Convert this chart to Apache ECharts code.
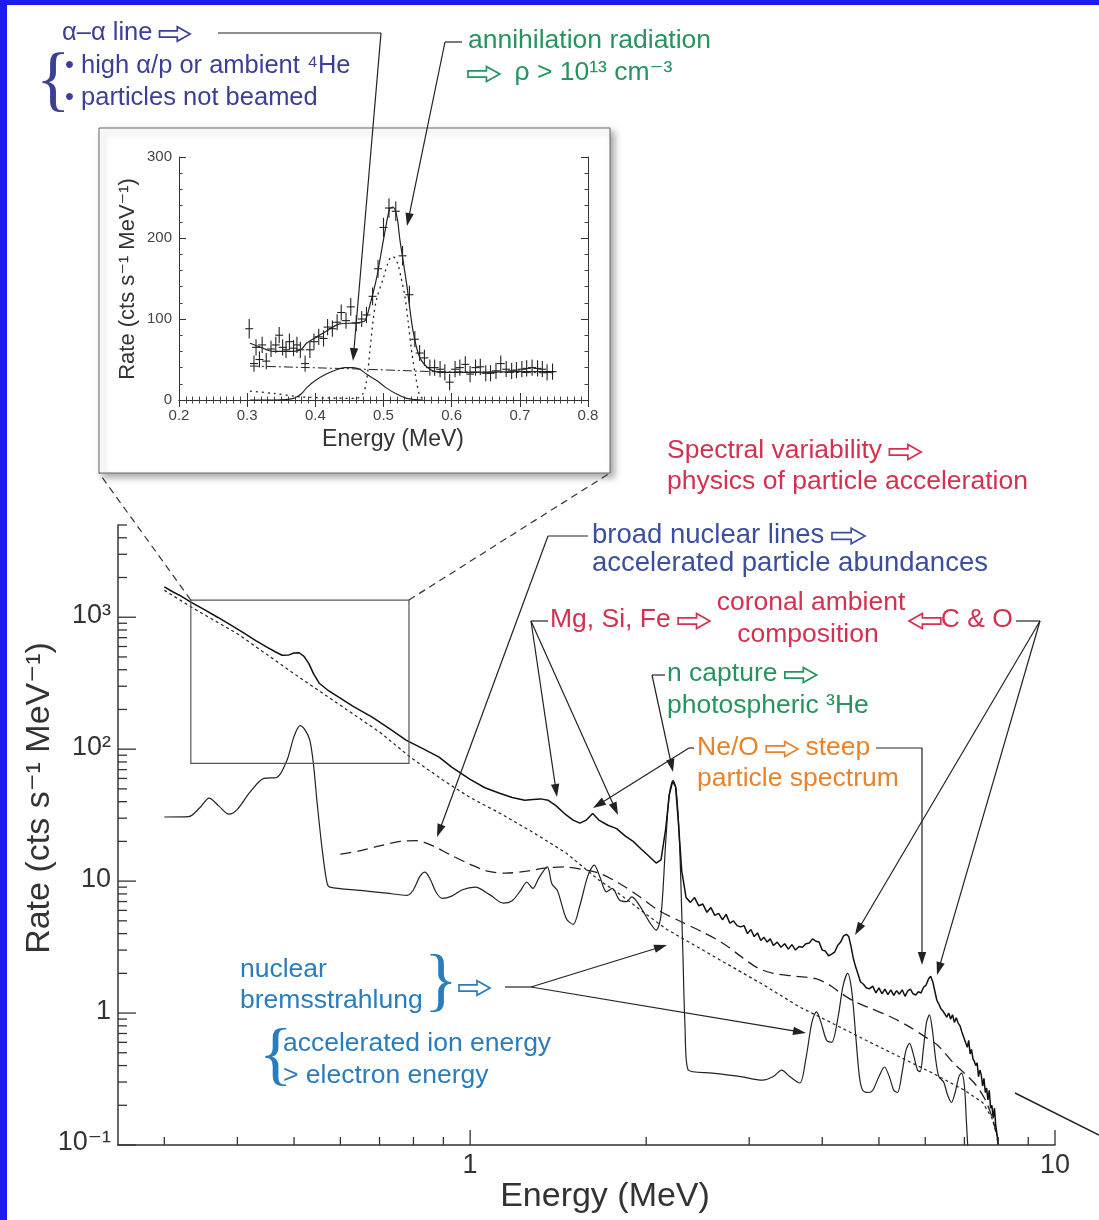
<!DOCTYPE html>
<html>
<head>
<meta charset="utf-8">
<script src="https://cdn.jsdelivr.net/npm/echarts@6/dist/echarts.min.js"></script>
<style>
  html, body { margin: 0; padding: 0; background: #fff; }
  #chart { width: 1099px; height: 1220px; }
</style>
</head>
<body>
<div id="chart"></div>
<script>
// ---- main spectrum (log-log) ----
// observed count spectrum
const obsE = [0.30,0.31,0.32,0.333,0.35,0.37,0.39,0.41,0.43,0.45,0.465,0.477,0.49,0.50,0.51,0.52,0.53,0.54,0.552,0.57,
  0.596,0.63,0.68,0.73,0.777,0.83,0.885,0.93,1.00,1.06,1.12,1.18,1.24,1.28,1.32,1.36,1.40,1.45,1.50,1.54,
  1.58,1.62,1.66,1.72,1.78,1.84,1.90,1.96,2.02,2.08,2.12,2.16,2.19,2.22,2.245,2.27,2.30,
  2.34,2.38,2.42,2.46,2.50,2.54,2.58,2.62,2.66,2.70,2.74,2.78,2.82,2.86,2.90,2.94,2.98,3.02,3.06,3.10,
  3.14,3.18,3.22,3.26,3.30,3.35,3.40,3.45,3.50,3.55,3.60,3.65,3.70,3.75,3.80,3.85,3.90,3.95,4.00,4.05,
  4.10,4.15,4.20,4.25,4.30,4.35,4.40,4.44,4.48,4.52,4.56,4.60,4.65,4.70,4.76,4.82,4.88,4.94,5.00,5.06,
  5.12,5.18,5.24,5.30,5.36,5.42,5.48,5.54,5.60,5.66,5.72,5.78,5.84,5.90,5.96,6.02,6.08,6.13,6.18,6.23,
  6.28,6.33,6.38,6.43,6.48,6.53,6.58,6.63,6.68,6.73,6.78,6.83,6.88,6.93,6.98,7.03,7.08,7.12,7.16,7.20,
  7.24,7.28,7.32,7.36,7.40,7.44,7.48,7.52,7.56,7.60,7.64,7.68,7.72,7.76,7.80,7.84,7.88,7.92,7.96,8.00];
const obsRate = [1700,1560,1450,1300,1150,1000,870,760,665,590,545,515,518,535,538,505,445,372,316,282,
  248,212,175,142,117,101,87,73,59,51,46.5,43,41,41.5,42,41,37.5,32.5,29,27.5,
  29,32.5,29,26.5,25,22,20,17.5,15.5,13.7,14.5,25,45,57,52,28,12,
  7.5,6.9,7.5,6.5,6.7,5.8,6.3,5.5,5.7,5.1,5.6,4.8,5.0,4.6,4.5,4.6,4.0,4.3,3.8,4.05,
  3.55,3.75,3.45,3.65,3.25,3.45,3.15,3.35,3.05,3.3,3.0,3.2,3.15,3.35,3.4,3.65,3.5,3.45,3.0,2.95,
  2.72,2.8,2.9,3.25,3.45,3.85,3.95,3.8,3.2,2.6,2.25,2.0,1.72,1.66,1.55,1.53,1.6,1.42,1.55,1.4,
  1.52,1.38,1.5,1.36,1.48,1.39,1.5,1.34,1.47,1.52,1.4,1.37,1.45,1.42,1.57,1.63,1.82,1.9,1.73,1.47,
  1.25,1.17,1.08,1.04,1.06,0.93,1.0,0.9,0.97,0.85,0.92,0.84,0.8,0.72,0.7,0.6,0.55,0.62,0.49,0.53,
  0.45,0.43,0.40,0.42,0.33,0.37,0.34,0.28,0.32,0.25,0.27,0.22,0.26,0.19,0.2,0.16,0.19,0.14,0.12,0.1];

// power-law (electron bremsstrahlung) component, dotted
const pwE = [0.30,0.333,0.40,0.51,0.60,0.70,0.79,0.90,1.00,1.12,1.30,1.46,1.66,1.80,2.00,2.17,2.50,2.81,3.20,3.66,4.20,4.76,5.40,6.18,7.00,7.52,7.80,8.00];
const pwRate = [1600,1200,750,351,215,135,87,58,43,33,22.5,16.3,10.2,8.0,5.6,4.3,3.0,2.23,1.6,1.11,0.82,0.62,0.47,0.35,0.26,0.21,0.16,0.11];

// broad nuclear lines component, dashed
const bnlE = [0.60,0.65,0.70,0.76,0.81,0.87,0.92,1.00,1.07,1.15,1.25,1.35,1.45,1.55,1.66,1.80,1.95,2.10,2.30,2.50,
  2.70,2.90,3.10,3.30,3.60,3.90,4.10,4.30,4.50,4.80,5.20,5.60,6.00,6.30,6.70,7.00,7.30,7.60,7.85,8.00];
const bnlRate = [16,17,18.5,20,20.3,18.2,16,13.4,11.9,11.5,11.9,12.6,12.8,12.3,11.5,9.6,7.6,6.0,4.9,4.1,
  3.4,2.7,2.2,2.0,1.9,1.82,1.65,1.42,1.25,1.1,0.95,0.8,0.66,0.57,0.42,0.35,0.29,0.22,0.15,0.1];

// narrow nuclear lines component, solid
const nlE = [0.30,0.33,0.345,0.358,0.372,0.387,0.40,0.42,0.444,0.467,0.486,0.50,0.512,0.522,0.532,0.54,0.547,0.558,0.569,0.576,
  0.65,0.72,0.78,0.80,0.82,0.837,0.855,0.875,0.896,0.93,0.97,1.02,1.08,1.14,1.18,1.22,1.25,1.28,1.31,1.355,
  1.38,1.41,1.46,1.50,1.54,1.59,1.63,1.67,1.71,1.75,1.80,1.85,1.89,1.95,2.02,2.08,2.12,2.16,2.19,2.223,
  2.25,2.28,2.31,2.33,2.36,2.60,2.90,3.16,3.30,3.41,3.52,3.66,3.75,3.84,3.91,3.98,4.07,4.15,4.26,4.34,
  4.42,4.49,4.56,4.63,4.69,4.80,4.88,5.00,5.11,5.22,5.30,5.38,5.48,5.56,5.64,5.73,5.82,5.88,5.96,6.03,
  6.10,6.17,6.25,6.33,6.45,6.55,6.65,6.75,6.85,6.92,7.00,7.05,7.10];
const nlRate = [30.6,30.8,36,42.6,37,32.2,35,47,60,61,82,125,151,140,117,75,41,18,9.8,9.0,
  8.5,8.1,7.8,8.6,10.8,11.7,10.3,8.2,7.4,7.7,8.6,9.0,7.9,6.8,7.1,8.5,9.8,8.8,10.5,12.8,
  9.5,8.5,5.2,4.7,6.5,11,13.2,10.5,8.3,8.8,7.2,7.0,7.6,6.5,5.0,4.25,5.5,20,45,58,
  50,20,3.0,0.8,0.37,0.35,0.33,0.31,0.33,0.37,0.33,0.295,0.45,0.85,1.02,0.85,0.62,0.6,0.95,1.6,
  2.0,1.5,0.7,0.33,0.26,0.25,0.26,0.33,0.39,0.32,0.26,0.25,0.36,0.52,0.59,0.48,0.37,0.36,0.55,0.85,
  0.97,0.75,0.45,0.33,0.3,0.24,0.21,0.25,0.33,0.35,0.28,0.16,0.09];

// zoom box on the main plot (energy, rate corners)
const boxE = [0.333, 0.786];
const boxRate = [78, 1350];

// main axis ticks
const xMajor = [1, 10];
const xMajorLabels = ['1', '10'];
const xMinor = [0.3,0.4,0.5,0.6,0.7,0.8,0.9,2,3,4,5,6,7,8,9];
const yMajor = [0.1, 1, 10, 100, 1000];
const yMajorLabels = ['10\u207b\u00b9', '1', '10', '10\u00b2', '10\u00b3'];
const yMinor = [0.2,0.3,0.4,0.5,0.6,0.7,0.8,0.9,2,3,4,5,6,7,8,9,20,30,40,50,60,70,80,90,
  200,300,400,500,600,700,800,900,2000,3000,4000,5000];

// ---- inset (linear) ----
const ptE = [0.303,0.310,0.313,0.318,0.322,0.328,0.335,0.342,0.347,0.352,0.357,0.362,0.368,0.373,0.378,0.385,0.392,0.398,0.405,0.412,
  0.418,0.425,0.432,0.438,0.445,0.452,0.460,0.468,0.475,0.484,0.492,0.500,0.508,0.518,0.528,0.538,0.546,0.553,0.560,0.568,
  0.575,0.583,0.590,0.597,0.605,0.612,0.620,0.627,0.635,0.642,0.650,0.657,0.665,0.672,0.680,0.688,0.695,0.703,0.710,0.718,
  0.726,0.733,0.740,0.748];
const ptRate = [88,45,65,50,68,48,63,68,80,65,62,72,64,68,62,45,62,72,78,76,
  90,88,96,108,98,115,95,100,105,128,162,213,237,233,178,130,75,58,52,40,
  40,38,34,22,38,40,44,32,40,41,33,33,36,45,38,36,37,38,39,40,
  39,38,34,35];
const ptErr = [12,10,10,10,10,10,10,10,10,10,10,10,10,10,10,10,10,10,10,10,
  10,10,10,10,10,11,10,10,10,11,11,12,12,12,12,11,10,10,10,10,
  10,10,10,10,10,10,10,10,10,10,10,10,10,10,10,10,10,10,10,10,
  10,10,10,10];

// total fit, solid
const fitE = [0.304,0.32,0.338,0.355,0.368,0.38,0.387,0.40,0.416,0.436,0.455,0.465,0.473,0.48,0.49,0.50,0.509,0.514,0.52,0.524,
  0.534,0.543,0.553,0.568,0.587,0.62,0.66,0.70,0.751];
const fitRate = [70,65,60,60,60,63,70,77,85,94,95,96,98,117,151,198,236,238,225,198,
  143,87,53,38,34,34,34.5,35,35];
// continuum, dash-dot
const contE = [0.304, 0.455, 0.573, 0.751];
const contRate = [42, 38.5, 35, 33.5];
// annihilation line + positronium, dotted
const annE = [0.304,0.34,0.377,0.42,0.46,0.47,0.475,0.48,0.485,0.49,0.50,0.506,0.512,0.516,0.521,0.526,0.531,0.536,0.541,0.547,0.553,0.56];
const annRate = [11,8,4,2.5,2,8,23,60,100,125,151,168,177,176,168,150,130,98,62,30,6,0];
// alpha-alpha line, solid
const aaE = [0.304,0.34,0.368,0.38,0.387,0.40,0.416,0.43,0.443,0.455,0.465,0.475,0.49,0.504,0.52,0.534,0.546,0.558];
const aaRate = [0,0,2,8,15,24,32,37,40,40,38,32,24,15,7,2,0.5,0];

const FONT = '"Liberation Sans", "DejaVu Sans", Arial, sans-serif';
const SERIF = '"Liberation Serif", "DejaVu Serif", serif';
const INK = '#222';
const NAVY = '#3c3f96';
const GREEN = '#27935f';
const RED = '#d4304f';
const BLUE = '#3c4f9e';
const ORANGE = '#e8832c';
const SKY = '#2a7dbd';

const zip = (a, b) => a.map((v, i) => [v, b[i]]);

const chart = echarts.init(document.getElementById('chart'));

const insetAxisCommon = {
  gridIndex: 1,
  axisLine: { show: true, lineStyle: { color: '#333', width: 1 } },
  axisTick: { show: true, inside: true, length: 7, lineStyle: { color: '#333' } },
  splitLine: { show: false }
};

chart.setOption({
  animation: false,
  backgroundColor: '#fff',
  grid: [
    { left: 118, top: 525, width: 937, height: 620 },
    { left: 179, top: 157, width: 409, height: 243 }
  ],
  xAxis: [
    { type: 'log', gridIndex: 0, min: 0.25, max: 10,
      axisLine: { show: true, lineStyle: { color: '#333', width: 1.5 } },
      axisTick: { show: false }, axisLabel: { show: false }, splitLine: { show: false } },
    Object.assign({}, insetAxisCommon, { type: 'value', min: 0.2, max: 0.8, interval: 0.1, position: 'bottom',
      minorTick: { show: true, splitNumber: 10, length: 3.5, lineStyle: { color: '#444' } },
      axisLabel: { formatter: v => v.toFixed(1), color: '#444', fontSize: 15, fontFamily: FONT, margin: 8 } }),
    Object.assign({}, insetAxisCommon, { type: 'value', min: 0.2, max: 0.8, interval: 0.1, position: 'top',
      minorTick: { show: true, splitNumber: 10, length: 3.5, lineStyle: { color: '#444' } },
      axisLabel: { show: false } })
  ],
  yAxis: [
    { type: 'log', gridIndex: 0, min: 0.1, max: 5000,
      axisLine: { show: true, lineStyle: { color: '#333', width: 1.5 } },
      axisTick: { show: false }, axisLabel: { show: false }, splitLine: { show: false } },
    Object.assign({}, insetAxisCommon, { type: 'value', min: 0, max: 300, interval: 100, position: 'left',
      minorTick: { show: true, splitNumber: 5, length: 3.5, lineStyle: { color: '#444' } },
      axisLabel: { color: '#444', fontSize: 15, fontFamily: FONT, margin: 7 } }),
    Object.assign({}, insetAxisCommon, { type: 'value', min: 0, max: 300, interval: 100, position: 'right',
      minorTick: { show: true, splitNumber: 5, length: 3.5, lineStyle: { color: '#444' } },
      axisLabel: { show: false } })
  ],
  series: [
    { type: 'line', xAxisIndex: 0, yAxisIndex: 0, data: zip(pwE, pwRate), showSymbol: false,
      lineStyle: { color: INK, width: 1.2, type: [3, 3] } },
    { type: 'line', xAxisIndex: 0, yAxisIndex: 0, data: zip(bnlE, bnlRate), showSymbol: false, smooth: 0.3,
      lineStyle: { color: INK, width: 1.3, type: [11, 6] } },
    { type: 'line', xAxisIndex: 0, yAxisIndex: 0, data: zip(nlE, nlRate), showSymbol: false, smooth: 0.3,
      lineStyle: { color: INK, width: 1.2 } },
    { type: 'line', xAxisIndex: 0, yAxisIndex: 0, data: zip(obsE, obsRate), showSymbol: false,
      lineStyle: { color: '#111', width: 1.5 } },
    // inset
    { type: 'line', xAxisIndex: 1, yAxisIndex: 1, data: zip(contE, contRate), showSymbol: false,
      lineStyle: { color: INK, width: 1, type: [9, 3, 2, 3] } },
    { type: 'line', xAxisIndex: 1, yAxisIndex: 1, data: zip(annE, annRate), showSymbol: false, smooth: 0.3,
      lineStyle: { color: INK, width: 1.3, type: [2, 4] } },
    { type: 'line', xAxisIndex: 1, yAxisIndex: 1, data: zip(aaE, aaRate), showSymbol: false, smooth: 0.3,
      lineStyle: { color: INK, width: 1.1 } },
    { type: 'line', xAxisIndex: 1, yAxisIndex: 1, data: zip(fitE, fitRate), showSymbol: false, smooth: 0.3,
      lineStyle: { color: INK, width: 1.2 } },
    { type: 'custom', xAxisIndex: 1, yAxisIndex: 1,
      data: ptE.map((e, i) => [e, ptRate[i], ptErr[i]]),
      renderItem: (params, api) => {
        const e = api.value(0), v = api.value(1), er = api.value(2);
        const c = api.coord([e, v]);
        const top = api.coord([e, v + er]);
        const bot = api.coord([e, v - er]);
        const st = { stroke: INK, lineWidth: 1.1 };
        return { type: 'group', children: [
          { type: 'line', shape: { x1: c[0], y1: top[1], x2: c[0], y2: bot[1] }, style: st },
          { type: 'line', shape: { x1: c[0] - 4, y1: c[1], x2: c[0] + 4, y2: c[1] }, style: st }
        ] };
      } }
  ]
});

// ---- decorations drawn after the axes exist ----
const px = v => chart.convertToPixel({ xAxisIndex: 0 }, v);
const py = v => chart.convertToPixel({ yAxisIndex: 0 }, v);
const xAxisY = py(0.1);
const yAxisX = px(0.25);

const measureCtx = document.createElement('canvas').getContext('2d');
const fontOf = (size, fam) => 'normal ' + size + 'px ' + (fam || FONT);
const textWidth = (s, size) => { measureCtx.font = fontOf(size); return measureCtx.measureText(s).width; };

function seg(x1, y1, x2, y2, st, z) {
  return { type: 'line', z: z == null ? 60 : z, shape: { x1, y1, x2, y2 },
    style: Object.assign({ stroke: INK, lineWidth: 1.2 }, st || {}) };
}
function arrow(x1, y1, x2, y2) {
  const a = Math.atan2(y2 - y1, x2 - x1), L = 13, W = 4.2;
  const bx = x2 - L * Math.cos(a), by = y2 - L * Math.sin(a);
  const ox = -Math.sin(a) * W, oy = Math.cos(a) * W;
  return [seg(x1, y1, bx + 2 * Math.cos(a), by + 2 * Math.sin(a)),
    { type: 'polygon', z: 60, shape: { points: [[x2, y2], [bx + ox, by + oy], [bx - ox, by - oy]] },
      style: { fill: INK } }];
}
function txt(x, y, text, color, size, align, family) {
  return { type: 'text', z: 60, x, y,
    style: { text, fill: color, font: fontOf(size, family),
      textAlign: align || 'left', textVerticalAlign: 'middle' } };
}
// outlined block arrow, like the hollow arrow glyphs of the figure
function hollow(x, y, dir, color, w) {
  const h = w * 0.47, s = w * 0.2;
  let pts = [[0, -s / 2], [w * 0.58, -s / 2], [w * 0.58, -h / 2], [w, 0], [w * 0.58, h / 2], [w * 0.58, s / 2], [0, s / 2]];
  if (dir === 'l') pts = pts.map(p => [w - p[0], p[1]]);
  return { type: 'polygon', z: 60, shape: { points: pts.map(p => [x + p[0], y + p[1]]) },
    style: { fill: '#fff', stroke: color, lineWidth: 1.7 } };
}
// a line of text with hollow arrows in it: items are strings or 'R' / 'L'
function run(x, y, items, color, size) {
  const out = [];
  let cx = x;
  const aw = size * 1.2;
  items.forEach(it => {
    if (it === 'R' || it === 'L') {
      out.push(hollow(cx, y + 1, it === 'R' ? 'r' : 'l', color, aw));
      cx += aw;
    } else {
      out.push(txt(cx, y, it, color, size));
      cx += textWidth(it, size);
    }
  });
  return out;
}

const g = [];
// blue frame
g.push({ type: 'rect', z: 80, shape: { x: 0, y: 0, width: 1099, height: 5 }, style: { fill: '#1c1cf2' } });
g.push({ type: 'rect', z: 80, shape: { x: 0, y: 0, width: 7, height: 1220 }, style: { fill: '#1c1cf2' } });

// inset panel
g.push({ type: 'rect', z: -5, shape: { x: 99, y: 128, width: 511, height: 345 },
  style: { fill: '#fff', stroke: '#666', lineWidth: 1, shadowBlur: 7, shadowOffsetX: 4, shadowOffsetY: 4,
    shadowColor: 'rgba(0,0,0,0.35)' } });
g.push(txt(393, 440, 'Energy (MeV)', '#333', 23, 'center'));
g.push({ type: 'text', z: 60, x: 128, y: 279, rotation: Math.PI / 2,
  style: { text: 'Rate (cts s\u207b\u00b9 MeV\u207b\u00b9)', fill: '#333', font: fontOf(22),
    textAlign: 'center', textVerticalAlign: 'middle' } });

// main axis ticks and labels
xMajor.forEach((v, i) => {
  g.push(seg(px(v), xAxisY, px(v), xAxisY - 15, { stroke: '#333', lineWidth: 1.3 }, 10));
  g.push(txt(px(v), xAxisY + 21, xMajorLabels[i], '#333', 27, 'center'));
});
xMinor.forEach(v => g.push(seg(px(v), xAxisY, px(v), xAxisY - 8, { stroke: '#333', lineWidth: 1.3 }, 10)));
yMajor.forEach((v, i) => {
  g.push(seg(yAxisX, py(v), yAxisX + 18, py(v), { stroke: '#333', lineWidth: 1.3 }, 10));
  g.push(txt(yAxisX - 7, py(v) - 2, yMajorLabels[i], '#333', 27, 'right'));
});
yMinor.forEach(v => g.push(seg(yAxisX, py(v), yAxisX + 9, py(v), { stroke: '#333', lineWidth: 1.3 }, 10)));
g.push(txt(605, 1197, 'Energy (MeV)', '#333', 34, 'center'));
g.push({ type: 'text', z: 60, x: 40, y: 798, rotation: Math.PI / 2,
  style: { text: 'Rate (cts s\u207b\u00b9 MeV\u207b\u00b9)', fill: '#333', font: fontOf(34),
    textAlign: 'center', textVerticalAlign: 'middle' } });

// zoom box and connectors
const bx0 = px(boxE[0]), bx1 = px(boxE[1]), by0 = py(boxRate[1]), by1 = py(boxRate[0]);
g.push({ type: 'rect', z: 10, shape: { x: bx0, y: by0, width: bx1 - bx0, height: by1 - by0 },
  style: { fill: 'none', stroke: '#555', lineWidth: 1.2 } });
g.push(seg(bx0, by0, 99, 473, { lineDash: [7, 5], stroke: '#333' }));
g.push(seg(bx1, by0, 610, 473, { lineDash: [7, 5], stroke: '#333' }));

// annotations
g.push(...run(62, 33, ['\u03b1\u2013\u03b1 line ', 'R'], NAVY, 25.5));
g.push(txt(36, 83, '{', NAVY, 72, 'left', SERIF));
g.push(txt(65, 66, '\u2022 high \u03b1/p or ambient \u2074He', NAVY, 25.5));
g.push(txt(65, 98, '\u2022 particles not beamed', NAVY, 25.5));
g.push(seg(218, 33, 381, 33));
g.push(...arrow(381, 33, 353, 361));

g.push(txt(468, 41, 'annihilation radiation', GREEN, 26.5));
g.push(...run(468, 73, ['R', '  \u03c1 > 10\u00b9\u00b3 cm\u207b\u00b3'], GREEN, 26.5));
g.push(seg(462, 42, 445, 42));
g.push(...arrow(445, 42, 407, 226));

g.push(...run(667, 451, ['Spectral variability ', 'R'], RED, 26.5));
g.push(txt(667, 482, 'physics of particle acceleration', RED, 26.5));

g.push(...run(592, 535, ['broad nuclear lines ', 'R'], BLUE, 27.5));
g.push(txt(592, 563, 'accelerated particle abundances', BLUE, 27.5));
g.push(seg(588, 536, 548, 536));
g.push(...arrow(548, 536, 437, 837));

g.push(...run(550, 620, ['Mg, Si, Fe ', 'R'], RED, 26.5));
g.push(txt(811, 603, 'coronal ambient', RED, 26.5, 'center'));
g.push(txt(808, 635, 'composition', RED, 26.5, 'center'));
g.push(...run(909, 620, ['L', 'C & O'], RED, 26.5));
g.push(seg(548, 621, 531, 621));
g.push(...arrow(531, 621, 557, 797));
g.push(...arrow(531, 621, 618, 815));
g.push(seg(1016, 621, 1040, 621));
g.push(...arrow(1040, 621, 855, 935));
g.push(...arrow(1040, 621, 937, 975));

g.push(...run(667, 674, ['n capture ', 'R'], GREEN, 26.5));
g.push(txt(667, 706, 'photospheric \u00b3He', GREEN, 26.5));
g.push(seg(665, 675, 652, 675));
g.push(...arrow(652, 675, 673, 772));

g.push(...run(697, 748, ['Ne/O ', 'R', ' steep'], ORANGE, 26.5));
g.push(txt(697, 779, 'particle spectrum', ORANGE, 26.5));
g.push(seg(694, 748, 689, 748));
g.push(...arrow(689, 748, 593, 808));
g.push(seg(876, 748, 922, 748));
g.push(...arrow(922, 748, 922, 965));

g.push(txt(240, 970, 'nuclear', SKY, 26.5));
g.push(txt(240, 1001, 'bremsstrahlung', SKY, 26.5));
g.push(txt(424, 985, '}', SKY, 70, 'left', SERIF));
g.push(hollow(459, 988, 'r', SKY, 31));
g.push(txt(259, 1059, '{', SKY, 70, 'left', SERIF));
g.push(txt(283, 1044, 'accelerated ion energy', SKY, 26.5));
g.push(txt(283, 1076, '> electron energy', SKY, 26.5));
g.push(seg(505, 987, 531, 987));
g.push(...arrow(531, 987, 667, 945));
g.push(...arrow(531, 987, 806, 1033));

g.push(seg(1015, 1093, 1099, 1135, { lineWidth: 1.4 }));

chart.setOption({ graphic: { elements: g } });
</script>
</body>
</html>
